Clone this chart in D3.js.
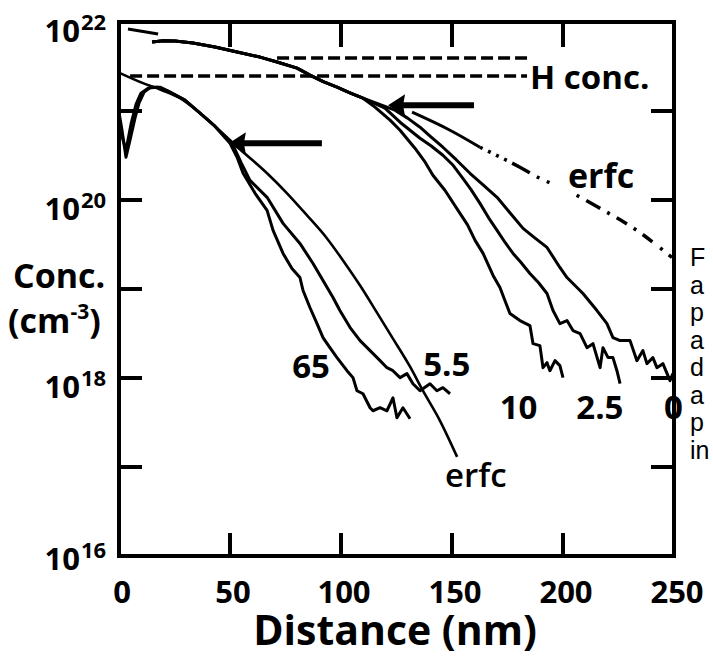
<!DOCTYPE html>
<html>
<head>
<meta charset="utf-8">
<script src="https://cdn.jsdelivr.net/npm/d3@7"></script>
<style>
  html, body { margin: 0; padding: 0; background: #fff; }
  svg { display: block; }
  text { font-family: "Open Sans", "DejaVu Sans", sans-serif; font-weight: 700; fill: #000; }
  .caption { font-family: "Liberation Sans", Arial, sans-serif; font-weight: 400; }
</style>
</head>
<body>
<svg id="chart" width="713" height="657"></svg>
<script>
// Depth profiles: each point is [depth (nm), log10 concentration (cm^-3)]

const xTickValues = [0, 50, 100, 150, 200, 250];
const yLabelExps = [22, 20, 18, 16];
const yMinorExps = [21, 19, 17];

// hydrogen concentration levels (dashed)
const hConcUpper = [[71.2, 21.595], [183.8, 21.595]];
const hConcLower = [[5.0, 21.392], [183.8, 21.392]];

// shallow (upper) group: shared near-surface part
const upperBundle = [
  [14.9, 21.775], [20.0, 21.790], [25.2, 21.786], [33.3, 21.764], [43.2, 21.719],
  [53.2, 21.662], [63.5, 21.606], [71.2, 21.550], [80.2, 21.482], [86.0, 21.403],
  [92.0, 21.330], [98.2, 21.268], [104.0, 21.205], [109.9, 21.144]
];
const tail10 = [
  [115.3, 21.043], [122.1, 20.897], [126.6, 20.784], [133.3, 20.582], [137.5, 20.44],
  [141.4, 20.278], [146.8, 20.109], [153.6, 19.850], [157.0, 19.72], [160.4, 19.546],
  [164.0, 19.400], [168.5, 19.152], [171.6, 19.017], [174.0, 18.86], [176.1, 18.724],
  [180.6, 18.645], [185.1, 18.589], [186.5, 18.386], [189.6, 18.364], [191.0, 18.116],
  [192.8, 18.172], [194.1, 18.082], [196.4, 18.195], [198.6, 18.139], [200.0, 18.004]
];
const tail2p5 = [
  [119.8, 21.032], [126.6, 20.874], [135.6, 20.694], [140.5, 20.61], [145.9, 20.503],
  [150.5, 20.39], [154.9, 20.244], [158.5, 20.12], [162.6, 19.962], [166.5, 19.80],
  [170.3, 19.658], [174.0, 19.52], [177.5, 19.400], [181.0, 19.30], [185.1, 19.174],
  [189.0, 19.07], [192.8, 18.949], [195.5, 18.758], [198.6, 18.611], [201.8, 18.645],
  [204.5, 18.533], [207.7, 18.499], [210.8, 18.341], [213.5, 18.386], [216.7, 18.116],
  [218.0, 18.341], [220.3, 18.229], [222.5, 18.229], [224.3, 18.082], [225.7, 17.936]
];
const tail0 = [
  [124.3, 21.009], [130.0, 20.92], [135.6, 20.818], [140.5, 20.71], [145.9, 20.593],
  [152.0, 20.45], [158.1, 20.300], [164.0, 20.17], [170.3, 20.030], [176.0, 19.86],
  [182.0, 19.681], [187.0, 19.58], [192.8, 19.467], [198.6, 19.242], [201.8, 19.129],
  [206.3, 19.017], [209.0, 18.949], [215.3, 18.758], [219.8, 18.611], [222.5, 18.454],
  [225.7, 18.420], [230.2, 18.420], [233.3, 18.195], [236.0, 18.308], [237.8, 18.161],
  [240.5, 18.229], [242.3, 18.116], [245.0, 18.161], [248.2, 17.970], [249.5, 18.049]
];

// fitted erfc profile for the shallow group
const erfcUpper = [
  [4.05, 21.921], [17.6, 21.865], [36.5, 21.764], [59.0, 21.629], [81.5, 21.460],
  [104.1, 21.234], [124.3, 21.077], [132.0, 20.987], [149.1, 20.784], [162.6, 20.593],
  [180.6, 20.368], [189.6, 20.244], [201.8, 20.109], [216.7, 19.906], [233.3, 19.658],
  [249.1, 19.354]
];

// deep-anneal (lower) group
const curve65 = [
  [0.0, 20.987], [1.35, 20.784], [3.15, 20.480], [4.95, 20.672], [7.2, 20.919],
  [9.0, 21.088], [11.3, 21.212], [14.4, 21.268], [18.5, 21.268], [23.0, 21.212],
  [29.7, 21.122], [36.5, 20.976], [43.2, 20.829], [50.0, 20.638], [53.2, 20.480],
  [55.9, 20.300], [61.3, 20.075], [66.7, 19.884], [69.4, 19.658], [73.9, 19.400],
  [77.9, 19.231], [81.5, 19.129], [82.9, 18.983], [86.0, 18.792], [89.2, 18.611],
  [91.9, 18.454], [95.0, 18.341], [98.2, 18.229], [102.7, 18.082], [105.4, 18.004],
  [107.2, 17.857], [109.9, 17.823], [113.1, 17.666], [114.4, 17.632], [117.6, 17.666],
  [120.7, 17.632], [123.4, 17.778], [125.2, 17.553], [127.9, 17.666], [131.1, 17.542]
];
const curve5p5 = [
  [0.0, 20.919], [1.8, 20.672], [3.15, 20.559], [5.4, 20.852], [7.7, 21.077],
  [9.9, 21.201], [13.1, 21.257], [17.1, 21.268], [22.1, 21.223], [29.7, 21.122],
  [36.5, 20.976], [43.2, 20.829], [51.4, 20.615], [55.0, 20.42], [59.0, 20.221],
  [66.7, 20.030], [73.9, 19.737], [81.5, 19.512], [87.4, 19.287], [91.9, 19.096],
  [96.4, 18.904], [99.5, 18.758], [104.1, 18.567], [108.6, 18.420], [113.1, 18.308],
  [117.6, 18.195], [120.7, 18.116], [123.4, 18.082], [126.6, 18.004], [129.7, 18.049],
  [132.4, 17.936], [135.6, 17.857], [140.1, 17.936], [143.2, 17.857], [145.9, 17.891],
  [149.1, 17.823]
];
const erfcLower = [
  [0.45, 21.426], [10.8, 21.313], [19.4, 21.234], [27.5, 21.144], [36.5, 20.976],
  [48.6, 20.705], [54.5, 20.570], [66.7, 20.300], [75.7, 20.075], [84.7, 19.827],
  [93.7, 19.568], [100.9, 19.321], [108.6, 19.039], [116.2, 18.735], [123.4, 18.443],
  [131.1, 18.127], [136.9, 17.857], [144.6, 17.519], [152.3, 17.114]
];

// arrows: [tip depth, log10 conc, tail depth]
const arrows = [[121.2, 21.066, 159.9], [49.5, 20.638, 91.4]];

// curve labels: [text, depth, log10 conc at baseline]
const curveLabels = [
  ["65", 78.0, 18.0], ["5.5", 137.0, 18.02], ["10", 171.5, 17.54],
  ["2.5", 206.0, 17.54], ["0", 245.5, 17.54]
];

const captionLetters = ["F", "a", "p", "a", "d", "a", "p", "in"];

// ---------------------------------------------------------------
const svg = d3.select("#chart");
const x = d3.scaleLinear().domain([0, 250]).range([119, 674]);
const y = d3.scaleLog().domain([1e16, 1e22]).range([556, 22]);
const X = d => x(d[0]);
const Y = d => y(Math.pow(10, d[1]));
const line = d3.line().x(X).y(Y);
const smooth = d3.line().x(X).y(Y).curve(d3.curveMonotoneX);

const g = svg.append("g");

// H concentration dashed lines
[hConcUpper, hConcLower].forEach(d => {
  g.append("path").attr("d", line(d)).attr("fill", "none")
    .attr("stroke", "#000").attr("stroke-width", 3.5).attr("stroke-dasharray", "12,5");
});

// upper erfc: visible solid pieces, then dash-dot
g.append("path").attr("d", line(erfcUpper.filter(d => d[0] <= 17.6)))
  .attr("fill", "none").attr("stroke", "#000").attr("stroke-width", 3);
g.append("path").attr("d", smooth(erfcUpper.filter(d => d[0] >= 132 && d[0] <= 162.6)))
  .attr("fill", "none").attr("stroke", "#000").attr("stroke-width", 3);
g.append("path").attr("d", smooth(erfcUpper.filter(d => d[0] >= 162.6)))
  .attr("fill", "none").attr("stroke", "#000").attr("stroke-width", 3.5)
  .attr("stroke-dasharray", "3,6,3,6,3,6,3,6,20,8,3,8,3,30,3,8,16,8,3,8,12,8,3,8,12,10,3,8,10,8,3");

// measured profiles
const profiles = [
  upperBundle.concat(tail10), upperBundle.concat(tail2p5), upperBundle.concat(tail0),
  curve65, curve5p5
];
profiles.forEach(d => {
  g.append("path").attr("d", line(d)).attr("fill", "none")
    .attr("stroke", "#000").attr("stroke-width", 3).attr("stroke-linejoin", "round");
});
g.append("path").attr("d", smooth(erfcLower)).attr("fill", "none")
  .attr("stroke", "#000").attr("stroke-width", 2.6);

// arrows
arrows.forEach(([tip, c, tail]) => {
  const tx = x(tip), ty = y(Math.pow(10, c)), ex = x(tail);
  g.append("line").attr("x1", tx + 10).attr("x2", ex).attr("y1", ty).attr("y2", ty)
    .attr("stroke", "#000").attr("stroke-width", 6);
  g.append("path")
    .attr("d", `M${tx},${ty} L${tx + 17},${ty - 11} L${tx + 15},${ty} L${tx + 17},${ty + 11} Z`)
    .attr("fill", "#000");
});

// curve labels
curveLabels.forEach(([t, d, c]) => {
  g.append("text").attr("x", x(d)).attr("y", y(Math.pow(10, c)))
    .attr("font-size", 33).text(t);
});
g.append("text").attr("x", 530).attr("y", 89).attr("font-size", 33).text("H conc.");
g.append("text").attr("x", 568).attr("y", 188).attr("font-size", 34).text("erfc");
g.append("text").attr("x", 445).attr("y", 487).attr("font-size", 33)
  .style("font-weight", 600).text("erfc");

// frame
const fr = svg.append("g");
fr.append("rect").attr("x", x(0)).attr("y", y(1e22))
  .attr("width", x(250) - x(0)).attr("height", y(1e16) - y(1e22))
  .attr("fill", "none").attr("stroke", "#000").attr("stroke-width", 4);

// ticks (inward)
[...yLabelExps, ...yMinorExps].filter(e => e > 16 && e < 22).forEach(e => {
  const yy = y(Math.pow(10, e));
  fr.append("line").attr("x1", x(0)).attr("x2", x(0) + 23).attr("y1", yy).attr("y2", yy)
    .attr("stroke", "#000").attr("stroke-width", 4);
  fr.append("line").attr("x1", x(250)).attr("x2", x(250) - 23).attr("y1", yy).attr("y2", yy)
    .attr("stroke", "#000").attr("stroke-width", 4);
});
xTickValues.filter(v => v > 0 && v < 250).forEach(v => {
  fr.append("line").attr("x1", x(v)).attr("x2", x(v)).attr("y1", y(1e22)).attr("y2", y(1e22) + 25)
    .attr("stroke", "#000").attr("stroke-width", 4);
  fr.append("line").attr("x1", x(v)).attr("x2", x(v)).attr("y1", y(1e16)).attr("y2", y(1e16) - 23)
    .attr("stroke", "#000").attr("stroke-width", 4);
});

// x tick labels
xTickValues.forEach(v => {
  svg.append("text").attr("x", x(v) + 3).attr("y", 603).attr("text-anchor", "middle")
    .attr("font-size", 31).text(v);
});

// y tick labels as powers of ten
yLabelExps.forEach(e => {
  const base = y(Math.pow(10, e)) + (e === 16 ? 14 : 20);
  svg.append("text").attr("x", 80).attr("y", base).attr("text-anchor", "end")
    .attr("font-size", 31).text("10");
  svg.append("text").attr("x", 81).attr("y", base - 12).attr("font-size", 22).text(e);
});

// axis titles
svg.append("text").attr("x", 13).attr("y", 288).attr("font-size", 34).text("Conc.");
const unit = svg.append("text").attr("x", 8).attr("y", 333).attr("font-size", 34);
unit.append("tspan").text("(cm");
unit.append("tspan").attr("font-size", 21).attr("dy", -14).text("-3");
unit.append("tspan").attr("dy", 14).text(")");
svg.append("text").attr("x", 395).attr("y", 645).attr("text-anchor", "middle")
  .attr("font-size", 41).text("Distance (nm)");

// caption lines running off the right edge
captionLetters.forEach((t, i) => {
  svg.append("text").attr("class", "caption").attr("x", 690).attr("y", 266 + i * 27.5)
    .attr("font-size", 25).text(t);
});
</script>
</body>
</html>
